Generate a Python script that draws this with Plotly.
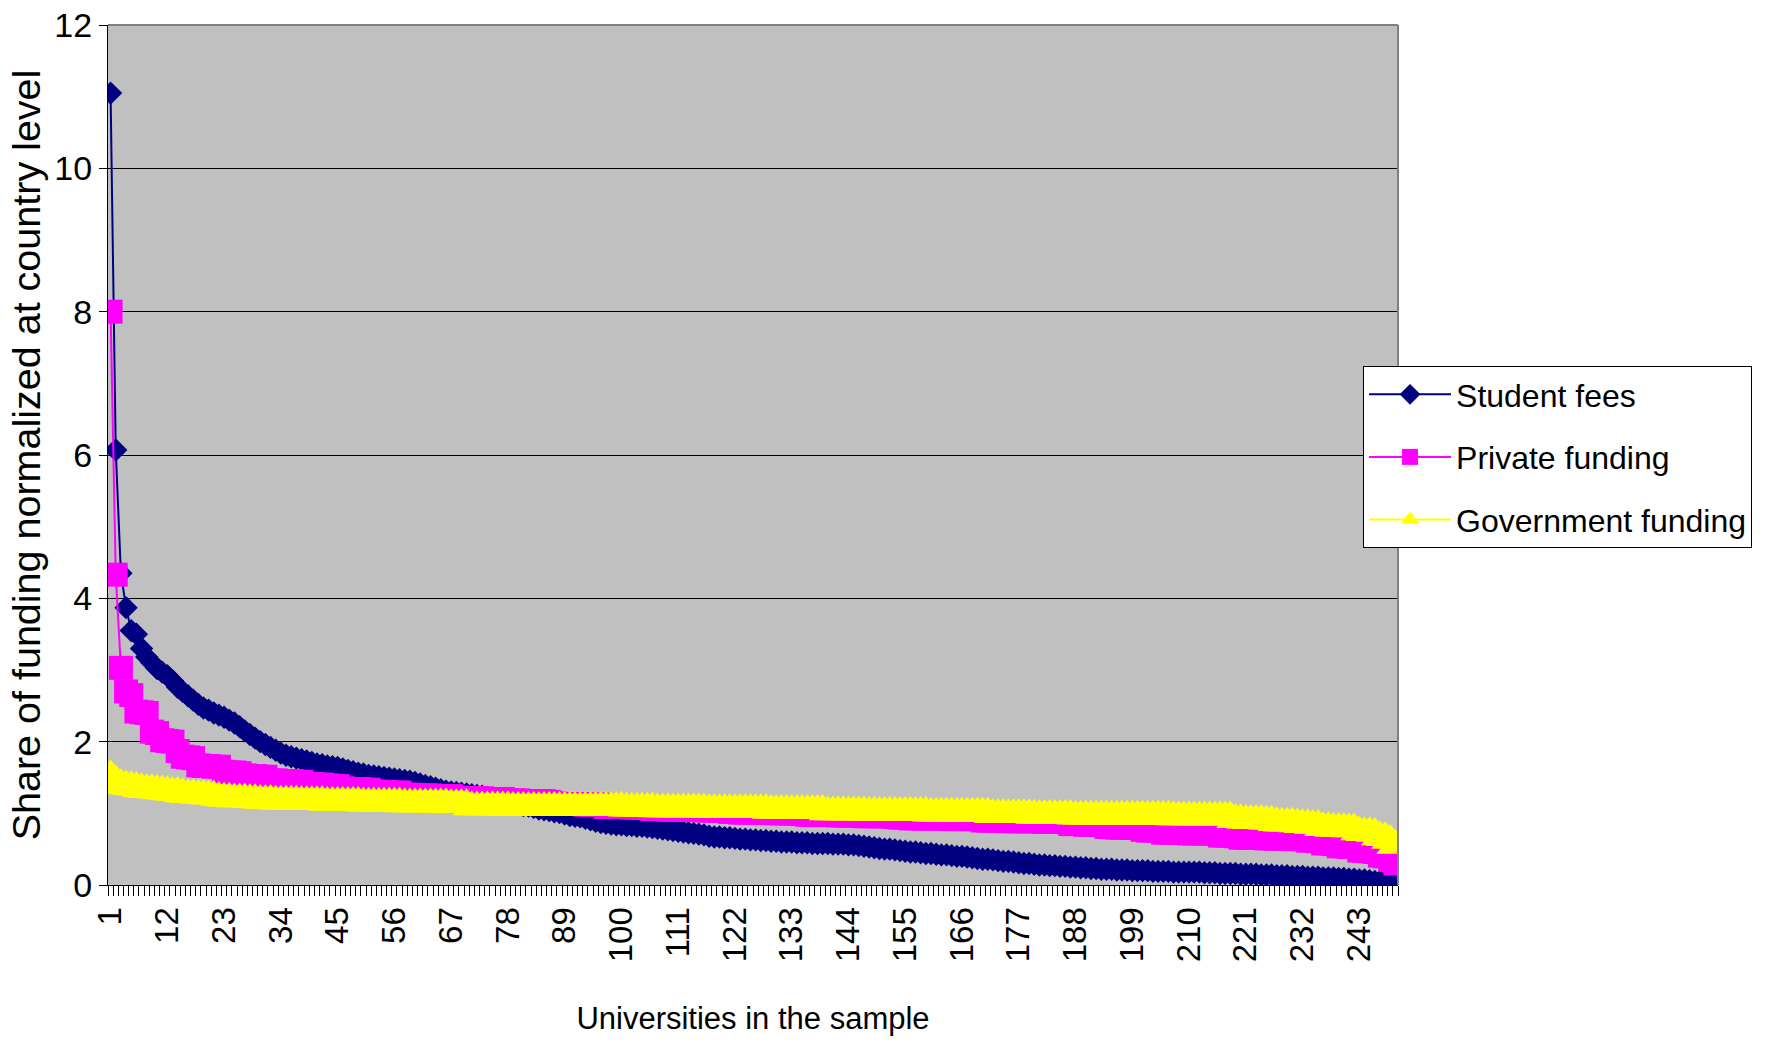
import plotly.graph_objects as go

# ---------------- data ----------------
universities = list(range(1, 251))

student_fees = [
    11.05, 6.07, 4.35, 3.87, 3.55, 3.50, 3.30, 3.18, 3.10, 3.02,
    2.97, 2.92, 2.85, 2.76, 2.70, 2.64, 2.58, 2.52, 2.47, 2.44,
    2.40, 2.37, 2.34, 2.30, 2.26, 2.21, 2.15, 2.10, 2.05, 2.00,
    1.96, 1.92, 1.88, 1.84, 1.81, 1.79, 1.77, 1.75, 1.73, 1.71,
    1.69, 1.68, 1.66, 1.65, 1.64, 1.62, 1.60, 1.58, 1.56, 1.55,
    1.53, 1.52, 1.51, 1.50, 1.49, 1.48, 1.47, 1.46, 1.45, 1.43,
    1.41, 1.39, 1.37, 1.35, 1.33, 1.31, 1.30, 1.29, 1.28, 1.27,
    1.26, 1.25, 1.24, 1.22, 1.21, 1.19, 1.18, 1.16, 1.14, 1.13,
    1.11, 1.10, 1.08, 1.06, 1.05, 1.04, 1.02, 1.01, 0.99, 0.97,
    0.96, 0.95, 0.93, 0.91, 0.89, 0.87, 0.86, 0.85, 0.84, 0.84,
    0.83, 0.83, 0.82, 0.82, 0.81, 0.80, 0.79, 0.78, 0.77, 0.76,
    0.75, 0.74, 0.73, 0.72, 0.71, 0.70, 0.68, 0.67, 0.67, 0.66,
    0.66, 0.65, 0.64, 0.64, 0.63, 0.63, 0.62, 0.62, 0.61, 0.61,
    0.60, 0.60, 0.60, 0.59, 0.59, 0.59, 0.58, 0.58, 0.58, 0.58,
    0.57, 0.57, 0.57, 0.56, 0.56, 0.55, 0.54, 0.53, 0.52, 0.51,
    0.50, 0.50, 0.49, 0.48, 0.47, 0.46, 0.46, 0.45, 0.44, 0.44,
    0.43, 0.42, 0.42, 0.41, 0.40, 0.40, 0.39, 0.38, 0.37, 0.36,
    0.36, 0.35, 0.34, 0.33, 0.33, 0.32, 0.31, 0.30, 0.30, 0.29,
    0.28, 0.28, 0.27, 0.27, 0.26, 0.26, 0.25, 0.25, 0.24, 0.24,
    0.23, 0.23, 0.22, 0.22, 0.22, 0.21, 0.21, 0.21, 0.20, 0.20,
    0.20, 0.20, 0.19, 0.19, 0.19, 0.19, 0.18, 0.18, 0.18, 0.18,
    0.18, 0.18, 0.17, 0.17, 0.17, 0.16, 0.16, 0.16, 0.16, 0.15,
    0.15, 0.15, 0.15, 0.14, 0.14, 0.14, 0.13, 0.13, 0.13, 0.12,
    0.12, 0.12, 0.11, 0.11, 0.11, 0.10, 0.10, 0.10, 0.09, 0.09,
    0.08, 0.08, 0.07, 0.07, 0.06, 0.05, 0.05, 0.04, 0.02, 0.00,
]

private_funding = [
    8.00, 4.33, 3.03, 2.70, 2.65, 2.42, 2.41, 2.40, 2.14, 2.12,
    2.02, 2.01, 2.00, 1.87, 1.79, 1.78, 1.77, 1.67, 1.66, 1.66,
    1.65, 1.65, 1.58, 1.57, 1.57, 1.56, 1.53, 1.52, 1.52, 1.51,
    1.51, 1.46, 1.46, 1.45, 1.45, 1.45, 1.44, 1.44, 1.41, 1.41,
    1.40, 1.40, 1.39, 1.38, 1.38, 1.35, 1.34, 1.34, 1.34, 1.33,
    1.33, 1.30, 1.30, 1.30, 1.29, 1.29, 1.29, 1.26, 1.26, 1.25,
    1.25, 1.25, 1.25, 1.24, 1.24, 1.24, 1.24, 1.22, 1.21, 1.21,
    1.21, 1.21, 1.21, 1.20, 1.20, 1.20, 1.20, 1.18, 1.18, 1.18,
    1.17, 1.17, 1.17, 1.17, 1.17, 1.16, 1.14, 1.13, 1.13, 1.13,
    1.13, 1.13, 1.12, 1.12, 1.12, 1.12, 1.09, 1.09, 1.09, 1.09,
    1.09, 1.08, 1.08, 1.08, 1.08, 1.06, 1.06, 1.06, 1.05, 1.05,
    1.05, 1.05, 1.05, 1.05, 1.05, 1.04, 1.04, 1.04, 1.04, 1.04,
    1.02, 1.02, 1.01, 1.01, 1.01, 1.01, 1.01, 1.01, 1.01, 1.00,
    1.00, 1.00, 1.00, 1.00, 0.99, 0.98, 0.98, 0.98, 0.98, 0.98,
    0.98, 0.97, 0.97, 0.97, 0.97, 0.97, 0.96, 0.96, 0.96, 0.96,
    0.96, 0.96, 0.95, 0.94, 0.94, 0.93, 0.93, 0.93, 0.93, 0.93,
    0.93, 0.93, 0.93, 0.92, 0.92, 0.92, 0.92, 0.92, 0.92, 0.90,
    0.90, 0.90, 0.90, 0.90, 0.89, 0.89, 0.89, 0.89, 0.89, 0.89,
    0.89, 0.88, 0.88, 0.88, 0.88, 0.88, 0.85, 0.85, 0.85, 0.84,
    0.84, 0.84, 0.84, 0.81, 0.81, 0.80, 0.80, 0.80, 0.80, 0.80,
    0.77, 0.76, 0.76, 0.76, 0.73, 0.73, 0.73, 0.73, 0.73, 0.72,
    0.72, 0.72, 0.72, 0.72, 0.72, 0.69, 0.69, 0.69, 0.68, 0.66,
    0.66, 0.66, 0.66, 0.66, 0.65, 0.65, 0.65, 0.65, 0.65, 0.65,
    0.64, 0.64, 0.62, 0.62, 0.61, 0.58, 0.58, 0.57, 0.54, 0.54,
    0.53, 0.53, 0.48, 0.48, 0.47, 0.46, 0.41, 0.40, 0.35, 0.30,
]

government_funding = [
    1.52, 1.45, 1.40, 1.38, 1.37, 1.36, 1.34, 1.33, 1.33, 1.32,
    1.31, 1.30, 1.29, 1.29, 1.27, 1.26, 1.26, 1.25, 1.25, 1.24,
    1.24, 1.22, 1.21, 1.21, 1.20, 1.20, 1.20, 1.19, 1.19, 1.18,
    1.18, 1.18, 1.17, 1.17, 1.17, 1.17, 1.17, 1.16, 1.16, 1.16,
    1.16, 1.16, 1.15, 1.15, 1.15, 1.15, 1.15, 1.15, 1.15, 1.14,
    1.14, 1.14, 1.14, 1.14, 1.14, 1.14, 1.14, 1.13, 1.13, 1.13,
    1.13, 1.13, 1.13, 1.13, 1.13, 1.13, 1.12, 1.12, 1.12, 1.12,
    1.09, 1.09, 1.09, 1.09, 1.09, 1.09, 1.09, 1.09, 1.08, 1.08,
    1.08, 1.08, 1.08, 1.08, 1.08, 1.08, 1.08, 1.08, 1.08, 1.08,
    1.08, 1.08, 1.08, 1.08, 1.08, 1.08, 1.08, 1.08, 1.08, 1.08,
    1.07, 1.07, 1.07, 1.07, 1.07, 1.07, 1.06, 1.06, 1.06, 1.06,
    1.06, 1.06, 1.06, 1.06, 1.06, 1.06, 1.05, 1.05, 1.05, 1.05,
    1.05, 1.05, 1.05, 1.05, 1.05, 1.05, 1.05, 1.05, 1.04, 1.04,
    1.04, 1.04, 1.04, 1.04, 1.04, 1.04, 1.04, 1.04, 1.04, 1.02,
    1.02, 1.02, 1.02, 1.02, 1.02, 1.02, 1.02, 1.01, 1.01, 1.01,
    1.01, 1.01, 1.01, 1.01, 1.01, 1.01, 1.01, 1.01, 1.01, 1.00,
    1.00, 1.00, 1.00, 1.00, 1.00, 1.00, 1.00, 1.00, 1.00, 1.00,
    1.00, 0.98, 0.98, 0.98, 0.98, 0.98, 0.98, 0.98, 0.98, 0.97,
    0.97, 0.97, 0.97, 0.97, 0.97, 0.97, 0.97, 0.96, 0.96, 0.96,
    0.96, 0.96, 0.96, 0.96, 0.96, 0.96, 0.96, 0.96, 0.96, 0.96,
    0.96, 0.96, 0.96, 0.96, 0.96, 0.96, 0.95, 0.95, 0.95, 0.95,
    0.95, 0.95, 0.95, 0.95, 0.95, 0.95, 0.95, 0.95, 0.91, 0.91,
    0.90, 0.90, 0.90, 0.90, 0.89, 0.89, 0.87, 0.86, 0.86, 0.86,
    0.85, 0.84, 0.84, 0.83, 0.83, 0.80, 0.80, 0.79, 0.79, 0.79,
    0.78, 0.78, 0.74, 0.73, 0.73, 0.72, 0.67, 0.66, 0.62, 0.55,
]

x_tick_values = [1, 12, 23, 34, 45, 56, 67, 78, 89, 100, 111, 122,
                 133, 144, 155, 166, 177, 188, 199, 210, 221, 232, 243]
y_tick_values = [0, 2, 4, 6, 8, 10, 12]

series_names = ["Student fees", "Private funding", "Government funding"]
series_values = [student_fees, private_funding, government_funding]
series_colors = ["#000080", "#FF00FF", "#FFFF00"]
series_symbols = ["diamond", "square", "triangle-up"]
series_sizes = [18, 24, 33]

FONT = "Liberation Sans, Arial, sans-serif"

fig = go.Figure()
for name, vals, color, sym, size in zip(series_names, series_values, series_colors,
                                        series_symbols, series_sizes):
    fig.add_trace(go.Scatter(
        x=universities[:len(vals)], y=vals, name=name, mode="lines+markers",
        legendgroup=name,
        line=dict(color=color, width=2),
        marker=dict(symbol=sym, size=size, color=color, line=dict(width=0)),
    ))

fig.update_layout(
    width=1767, height=1044,
    margin=dict(l=108, r=369, t=25, b=159, autoexpand=False),
    paper_bgcolor="white",
    plot_bgcolor="#C0C0C0",
    showlegend=True,
    legend=dict(
        x=0.9729, y=0.6035, xanchor="left", yanchor="top",
        bgcolor="white", bordercolor="black", borderwidth=1,
        font=dict(family=FONT, size=32, color="black"),
        itemwidth=82, tracegroupgap=18,
    ),
    xaxis=dict(
        range=[0.5, 250.5], automargin=False,
        tickmode="array", tickvals=x_tick_values,
        ticktext=[str(v) for v in x_tick_values],
        tickangle=-90,
        ticks="outside", ticklen=8, tickcolor="rgba(0,0,0,0)",
        tickfont=dict(family=FONT, size=33, color="black"),
        showgrid=False, zeroline=False,
        showline=True, linecolor="black", linewidth=1,
        layer="below traces",
        minor=dict(tickmode="linear", tick0=0.5, dtick=1, ticks="outside",
                   ticklen=10, tickcolor="black", tickwidth=1, showgrid=False),
        title=dict(text="Universities in the sample",
                   font=dict(family=FONT, size=31, color="black"), standoff=46),
    ),
    yaxis=dict(
        range=[0, 12], automargin=False,
        tickmode="array", tickvals=y_tick_values,
        ticks="outside", ticklen=8, tickcolor="black",
        tickfont=dict(family=FONT, size=34, color="black"),
        showgrid=True, gridcolor="black", gridwidth=1,
        zeroline=False, showline=True, linecolor="black", linewidth=1,
        layer="below traces",
        title=dict(text="Share of funding normalized at country level",
                   font=dict(family=FONT, size=39.5, color="black"), standoff=1),
    ),
    shapes=[
        dict(type="line", xref="paper", yref="paper", x0=0, x1=1, y0=1, y1=1,
             line=dict(color="#808080", width=2), layer="above"),
        dict(type="line", xref="paper", yref="paper", x0=1, x1=1, y0=0, y1=1,
             line=dict(color="#808080", width=2), layer="above"),
    ],
)

fig.write_html("out.html")
